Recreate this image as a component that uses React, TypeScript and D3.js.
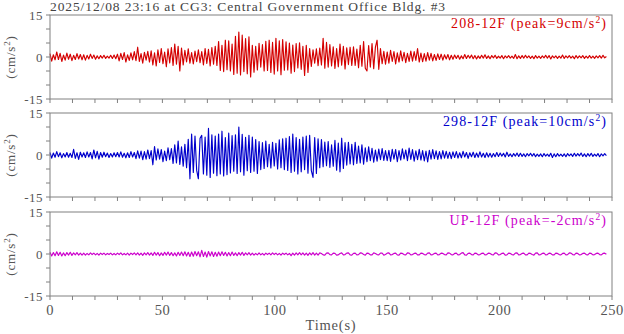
import React from 'react';
import * as d3 from 'd3';

const width = 624;
const height = 334;
const dt = 0.75;

const title = '2025/12/08 23:16 at CG3: Central Government Office Bldg. #3';
const channelNames = ['208-12F', '298-12F', 'UP-12F'];
const channelPeaks = [9, 10, -2];
const channelColors = ['#d40000', '#0000cc', '#cc00cc'];

const timeTicks = [0, 50, 100, 150, 200, 250];
const accelTicks = [15, 0, -15];

// 208-12F, one row = 15 s
const ch208 = [
  1.2,-1.5,0.8,-1.0,1.8,-0.9,1.3,-1.6,0.7,-1.1,1.4,-0.8,1.0,-1.3,0.6,-0.9,1.2,-0.7,0.9,-1.0,
  0.8,-1.1,0.6,-0.7,1.0,-0.5,0.7,-0.8,0.4,-0.6,0.5,-0.4,0.6,-0.5,0.3,-0.4,0.6,-0.5,0.7,-0.6,
  1.0,-1.4,1.3,-0.9,1.6,-1.8,0.8,-1.2,1.5,-1.0,1.9,-1.3,3.5,-1.6,1.2,-2.2,1.7,-1.1,2.0,-1.8,
  2.2,-2.8,1.5,-3.2,2.6,-1.9,3.0,-2.4,1.8,-3.5,2.9,-2.1,3.4,-3.0,4.6,-2.6,3.8,-5.0,3.2,-2.8,
  2.4,-1.8,2.9,-2.2,1.6,-2.5,2.1,-1.7,2.6,-2.0,1.9,-2.8,3.0,-2.3,2.7,-3.2,3.4,-2.6,3.8,-3.0,
  5.5,-4.8,4.2,-5.2,6.0,-4.5,5.8,-5.0,4.6,-6.2,7.4,-5.8,8.9,-6.4,7.8,-5.2,6.6,-6.0,7.2,-7.1,
  4.2,-5.4,3.8,-4.6,4.9,-3.6,4.4,-5.0,5.6,-4.8,6.0,-5.5,5.2,-6.1,6.7,-5.0,5.8,-6.3,6.2,-4.7,
  5.4,-4.6,5.0,-5.8,4.3,-5.2,4.8,-3.9,5.1,-4.4,3.8,-6.6,4.2,-5.5,3.0,-3.4,2.6,-2.2,2.9,-3.1,
  3.2,-2.8,6.7,-4.0,5.2,-3.6,4.4,-3.2,3.6,-4.1,3.0,-3.5,4.6,-2.9,3.8,-4.3,3.3,-2.7,3.5,-3.0,
  3.6,-3.0,2.8,-3.8,4.2,-3.3,5.5,-4.0,-5.0,4.1,-3.6,4.8,-4.2,3.5,6.0,-4.4,3.0,-2.4,2.0,-2.6,
  1.8,-2.2,2.4,-1.6,1.9,-2.5,1.5,-1.8,2.2,-1.4,1.7,-2.0,1.3,-1.6,2.1,-1.5,1.9,-1.2,3.0,-1.8,
  1.4,-1.7,1.2,-1.5,1.6,-1.1,1.3,-1.4,0.9,-1.2,1.1,-0.9,1.0,-1.1,0.8,-0.7,0.9,-1.0,0.6,-0.8,
  0.7,-0.5,0.6,-0.8,0.4,-0.6,0.9,-0.5,0.6,-0.4,0.7,-0.6,0.5,-0.7,0.4,-0.5,0.6,-0.4,0.8,-0.5,
  0.4,-0.6,0.5,-0.3,0.6,-0.5,0.3,-0.4,0.5,-0.6,0.4,-0.3,0.5,-0.4,0.3,-0.5,0.9,-0.6,0.4,-0.5,
  0.5,-0.4,0.6,-0.3,0.4,-0.5,0.3,-0.6,0.5,-0.4,0.3,-0.5,0.4,-0.3,0.6,-0.4,0.5,-0.7,0.4,-0.3,
  0.4,-0.5,0.3,-0.4,0.7,-0.5,0.4,-0.3,0.5,-0.4,0.3,-0.6,0.5,-0.4,0.4,-0.3,0.5,-0.5,0.3,-0.4,
  0.5,-0.4,0.3,-0.5,0.4,-0.3,0.5,-0.4,0.6,-0.3,0.2,
];

// 298-12F
const ch298 = [
  0.9,-1.1,0.7,-0.8,1.2,-0.6,0.8,-1.0,0.5,-0.7,0.9,-0.8,0.6,-0.9,2.0,-1.2,0.8,-1.6,1.0,-0.7,
  0.8,-0.9,1.1,-0.7,0.9,-1.4,1.8,-1.0,1.3,-1.5,0.9,-0.8,1.0,-0.6,0.7,-0.9,0.5,-0.7,0.8,-0.6,
  0.9,-0.7,1.1,-0.8,0.6,-1.0,0.8,-0.9,1.2,-0.7,0.9,-1.3,1.5,-1.1,1.4,-1.7,1.2,-1.5,1.8,-1.3,
  1.6,-3.5,3.0,-1.8,2.2,-1.5,1.9,-2.4,1.4,-2.0,2.6,-1.7,2.3,-3.0,3.6,-2.8,5.0,-3.4,2.9,-4.0,
  3.8,-4.5,5.6,-8.5,7.5,-6.2,6.8,-5.5,-8.5,6.0,7.0,-6.8,6.4,-7.2,9.5,-8.0,7.2,-6.5,6.8,-7.4,
  7.5,-6.8,8.5,-7.5,6.2,-7.0,7.8,-6.4,6.9,-5.8,7.2,-6.6,10.0,-6.0,7.4,-7.2,6.3,-5.6,7.0,-6.2,
  6.4,-5.8,5.5,-6.6,4.8,-5.2,4.4,-4.8,5.0,-4.2,3.8,-4.6,4.5,-3.9,4.2,-5.0,5.4,-4.5,5.8,-5.2,
  6.0,-5.5,6.6,-6.2,7.5,-5.8,6.2,-6.8,5.6,-6.0,6.4,-5.2,6.8,-6.5,7.0,-5.6,-8.0,6.2,-6.6,5.8,
  -4.5,5.5,-4.2,4.6,-3.8,4.8,-4.4,3.6,-4.0,5.2,-5.4,4.3,-6.0,6.0,-4.8,4.4,-3.6,4.5,-3.2,3.8,
  -3.5,4.5,-3.0,3.2,-2.8,3.6,-3.3,2.6,-2.4,2.9,-2.0,2.4,-2.6,1.8,-2.2,2.1,-1.7,2.3,-1.9,1.6,
  -2.0,1.7,-2.3,2.0,-1.5,1.9,-2.4,1.6,-1.8,2.2,-1.4,1.8,-2.0,2.5,-1.6,1.9,-2.2,1.5,-1.7,2.0,
  -1.8,1.6,-2.1,1.4,-2.5,1.7,-1.5,1.9,-1.3,1.5,-1.6,1.2,-1.4,1.6,-1.1,1.3,-1.2,1.0,-1.3,1.1,
  -0.9,1.2,-1.1,0.8,-1.0,1.3,-0.7,0.9,-1.2,0.8,-0.6,1.0,-0.9,0.7,-0.8,1.1,-0.7,0.6,-0.9,0.8,
  -0.7,0.6,-0.8,0.5,-0.6,0.9,-0.5,0.7,-0.4,0.6,-0.7,1.0,-0.5,0.4,-0.6,0.5,-0.4,0.7,-0.5,0.6,
  -0.5,0.4,-0.6,0.5,-0.3,0.6,-0.4,0.5,-0.6,0.3,-0.5,0.4,-0.6,0.5,-0.4,0.3,-0.5,0.6,-0.9,0.4,
  -0.6,0.5,-0.4,0.3,-0.5,0.4,-0.6,0.5,-0.3,0.4,-0.5,0.6,-0.4,0.5,-0.3,0.7,-0.5,0.4,-0.6,0.5,
  -0.4,0.6,-0.5,0.3,-0.4,0.5,-0.6,0.4,-0.3,0.5,-0.2,
];

// UP-12F
const chUP = [
  0.6,-0.7,0.5,-0.6,0.8,-0.5,0.6,-0.7,0.4,-0.6,0.5,-0.4,0.6,-0.5,0.4,-0.3,0.5,-0.4,0.3,-0.4,
  0.3,-0.4,0.2,-0.3,0.4,-0.2,0.3,-0.3,0.2,-0.4,0.3,-0.2,0.3,-0.3,0.2,-0.2,0.3,-0.3,0.2,-0.3,
  0.3,-0.2,0.4,-0.3,0.2,-0.3,0.3,-0.4,0.3,-0.2,0.4,-0.3,0.4,-0.4,0.3,-0.5,0.4,-0.3,0.5,-0.4,
  0.4,-0.5,0.6,-0.4,0.5,-0.6,0.4,-0.5,0.6,-0.4,0.7,-0.5,0.5,-0.6,0.4,-0.7,0.6,-0.5,0.7,-0.6,
  0.8,-0.7,0.6,-0.9,0.7,-0.8,0.9,-0.6,0.8,-1.0,1.3,-0.9,0.7,-1.1,0.9,-0.7,0.8,-0.9,0.6,-0.8,
  0.7,-0.6,0.8,-0.5,0.6,-0.7,0.5,-0.6,0.7,-0.5,0.4,-0.6,0.5,-0.4,0.6,-0.5,0.4,-0.3,0.5,-0.4,
  0.3,-0.4,0.2,-0.3,0.4,-0.3,0.2,-0.4,0.3,-0.2,0.3,-0.3,0.4,-0.2,0.3,-0.3,0.2,-0.4,0.3,-0.2,
  0.3,-0.3,0.2,-0.6,0.3,-0.4,0.4,-0.3,0.5,-0.3,0.4,-0.4,0.3,-0.5,0.4,-0.3,0.5,-0.4,0.3,-0.4,
  0.4,0.2,-0.3,-0.4,0.3,0.4,-0.2,-0.3,0.3,0.2,-0.4,-0.3,0.2,0.4,-0.3,-0.2,0.3,0.4,-0.3,-0.4,
  0.2,0.3,-0.3,-0.2,0.4,0.3,-0.2,-0.4,0.3,0.2,-0.3,-0.3,0.4,0.2,-0.2,-0.3,0.3,0.3,-0.4,-0.2,
  0.3,0.4,-0.3,-0.2,0.2,0.3,-0.3,-0.4,0.3,0.2,-0.2,-0.3,0.4,0.3,-0.3,-0.2,0.2,0.3,-0.3,-0.3,
  0.3,0.2,-0.2,-0.3,0.3,0.4,-0.3,-0.2,0.2,0.3,-0.3,-0.2,0.3,0.2,-0.2,-0.3,0.4,0.3,-0.2,-0.3,
  0.2,0.3,-0.3,-0.2,0.3,0.5,-0.3,-0.4,0.2,0.3,-0.2,-0.3,0.3,0.2,-0.3,-0.2,0.2,0.3,-0.3,-0.2,
  0.3,0.2,-0.2,-0.3,0.4,0.3,-0.3,-0.2,0.2,0.3,-0.4,-0.3,0.3,0.2,-0.2,-0.3,0.3,0.4,-0.3,-0.2,
  0.2,0.3,-0.3,-0.3,0.3,0.2,-0.2,-0.4,0.3,0.4,-0.3,-0.2,0.2,0.3,-0.3,-0.2,0.3,0.2,-0.3,-0.3,
  0.3,0.2,-0.2,-0.3,0.2,0.3,-0.3,-0.2,0.4,0.3,-0.2,-0.3,0.3,0.2,-0.3,-0.2,0.2,0.3,-0.2,-0.3,
  0.3,0.2,-0.3,-0.2,0.2,0.3,-0.2,-0.3,0.2,0.3,-0.1,
];

const traces = [ch208, ch298, chUP];

const font = '"Liberation Serif", "Times New Roman", serif';
const axisColor = '#808080';
const textColor = '#555';

const left = 50;
const right = 612;
const panelTops = [15, 113, 212];
const panelH = 84;

const App = () => {
  const x = d3.scaleLinear().domain([0, 250]).range([left, right]);
  const minorX = d3.range(0, 251, 10);
  const minorY = d3.range(-15, 16, 5);

  return (
    <svg width={width} height={height} style={{ position: 'absolute', left: 0, top: 0, background: '#fff' }}
      fontFamily={font}>
      <text x={left} y={11} fontSize={13.5} fill="#444" letterSpacing={0.9}>{title}</text>

      {traces.map((data, k) => {
        const top = panelTops[k];
        const y = d3.scaleLinear().domain([-15, 15]).range([top + panelH, top]);
        const line = d3.line<number>().x((d, i) => x(i * dt)).y(d => y(d));
        const mid = top + panelH / 2;
        return (
          <g key={k}>
            <path d={line(data) || ''} fill="none" stroke={channelColors[k]} strokeWidth={1.15} strokeLinejoin="round" />
            <rect x={left} y={top} width={right - left} height={panelH} fill="none" stroke={axisColor} strokeWidth={1} />
            {minorX.map(t => (
              <line key={t} x1={x(t)} x2={x(t)} y1={top + panelH} y2={top + panelH + 4} stroke={axisColor} />
            ))}
            {minorY.map(v => (
              <line key={v} x1={left - 4} x2={left} y1={y(v)} y2={y(v)} stroke={axisColor} />
            ))}
            {accelTicks.map(v => (
              <text key={v} x={left - 7} y={y(v)} dy="0.35em" textAnchor="end" fontSize={13} fill={textColor}
                letterSpacing={0.5}>{v}</text>
            ))}
            <text transform={`translate(15,${mid}) rotate(-90)`} textAnchor="middle" fontSize={13}
              fill={textColor} letterSpacing={0.8}>
              (cm/s<tspan fontSize={9} dy={-5}>2</tspan><tspan dy={5}>)</tspan>
            </text>
            <text x={607} y={top + 13} textAnchor="end" fontSize={14} fill={channelColors[k]} letterSpacing={1.1}>
              {channelNames[k]} (peak={channelPeaks[k]}cm/s<tspan fontSize={9.5} dy={-5}>2</tspan><tspan dy={5}>)</tspan>
            </text>
          </g>
        );
      })}

      {timeTicks.map(t => (
        <text key={t} x={x(t)} y={315} textAnchor="middle" fontSize={14.5} fill={textColor} letterSpacing={0.5}>{t}</text>
      ))}
      <text x={331} y={330} textAnchor="middle" fontSize={14.5} fill={textColor} letterSpacing={0.8}>Time(s)</text>
    </svg>
  );
};

export default App;
